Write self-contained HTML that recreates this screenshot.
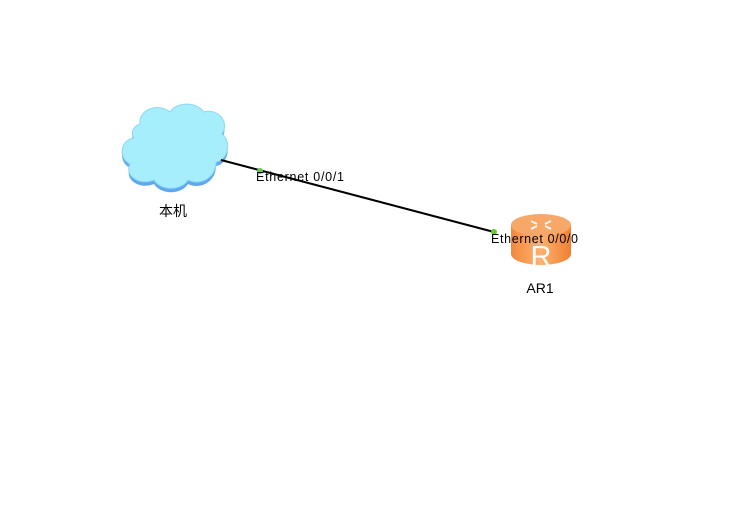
<!DOCTYPE html>
<html><head><meta charset="utf-8"><style>html,body{margin:0;padding:0;background:#fff}svg{display:block}</style></head>
<body>
<svg width="755" height="511" viewBox="0 0 755 511" xmlns="http://www.w3.org/2000/svg">
<defs>
<linearGradient id="rg" x1="0" y1="0" x2="1" y2="0">
<stop offset="0" stop-color="#f08a3c"/><stop offset="0.5" stop-color="#ffb070"/><stop offset="1" stop-color="#ee8030"/>
</linearGradient>
</defs>
<g>
<path d="M140,124 C138,110 158,102 170,112 C176,102 196,101 204,112 C218,108 230,122 222,134 C232,142 228,160 216,162 C216,178 200,186 188,180 C180,192 160,190 154,180 C140,186 124,176 130,164 C118,158 120,140 134,138 C130,132 134,126 140,124 Z" fill="#5fa8f0" transform="translate(0,4)"/>
<path d="M140,124 C138,110 158,102 170,112 C176,102 196,101 204,112 C218,108 230,122 222,134 C232,142 228,160 216,162 C216,178 200,186 188,180 C180,192 160,190 154,180 C140,186 124,176 130,164 C118,158 120,140 134,138 C130,132 134,126 140,124 Z" fill="#a6eefc" stroke="#8fd6f4" stroke-width="1"/>
</g>
<text x="173" y="216" font-family="Liberation Sans, Noto Sans CJK SC, sans-serif" font-size="14" text-anchor="middle" fill="#000">本机</text>
<g>
<path d="M511,225 L511,254 A30,11 0 0 0 571,254 L571,225 Z" fill="url(#rg)"/>
<ellipse cx="541" cy="225" rx="30" ry="11" fill="#f7a868"/>
<g stroke="#fff" stroke-width="2" fill="none" opacity="0.9">
<path d="M531,221 l6,3 M551,221 l-6,3 M531,229 l6,-3 M551,229 l-6,-3"/>
</g>
<text x="541" y="266" font-family="Liberation Sans, sans-serif" font-size="29" text-anchor="middle" fill="#fff">R</text>
</g>
<text x="540" y="293" font-family="Liberation Sans, sans-serif" font-size="14" text-anchor="middle" fill="#000">AR1</text>
<line x1="221" y1="160" x2="494" y2="232" stroke="#000" stroke-width="2"/>
<circle cx="260" cy="171" r="3" fill="#66cc33"/>
<circle cx="494" cy="232" r="3" fill="#66cc33"/>
<text x="256" y="181" font-family="Liberation Sans, sans-serif" font-size="12.5" textLength="88" fill="#000">Ethernet 0/0/1</text>
<text x="491" y="243" font-family="Liberation Sans, sans-serif" font-size="12.5" textLength="87" fill="#000">Ethernet 0/0/0</text>
</svg>
</body></html>
